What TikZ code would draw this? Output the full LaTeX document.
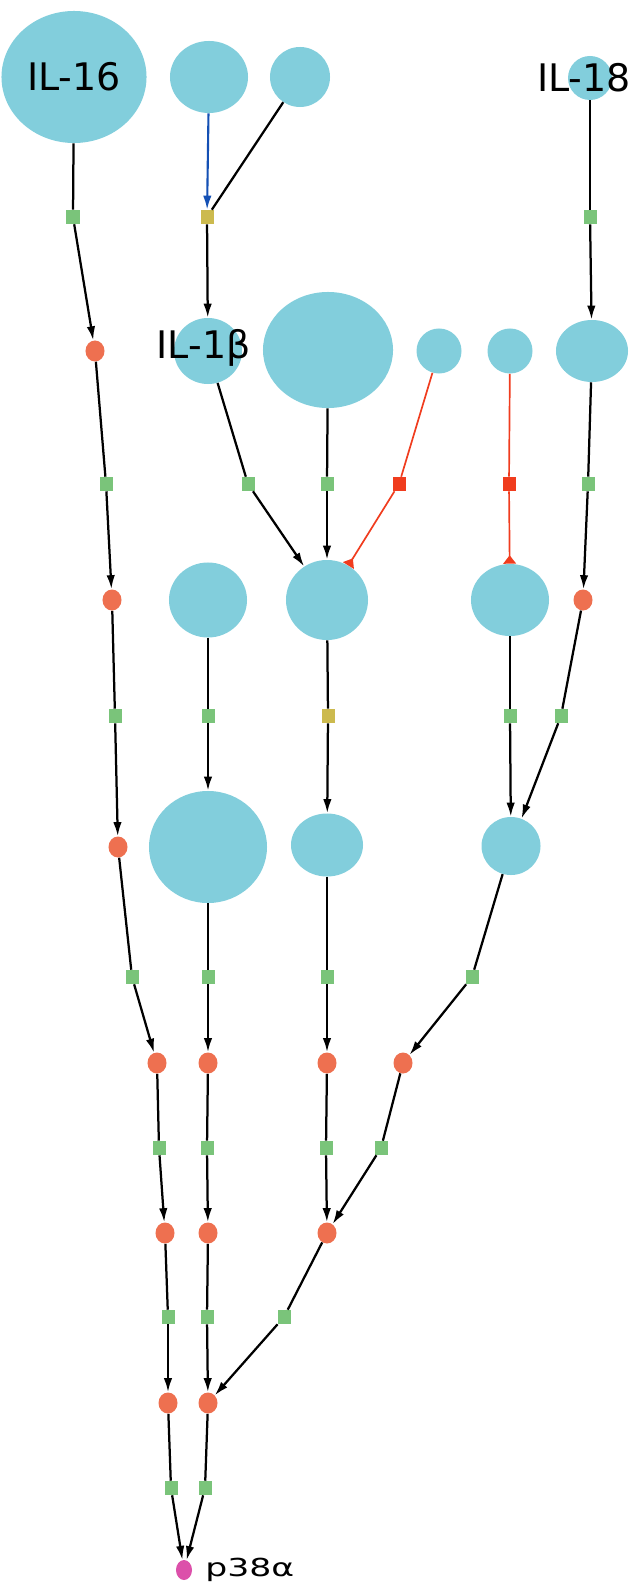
\documentclass[tikz,border=0pt]{standalone}
\usepackage{fontspec}
\setmainfont{DejaVu Sans}
\usetikzlibrary{shapes.geometric,arrows.meta}
\definecolor{molblue}{HTML}{82CEDC}
\definecolor{procgreen}{HTML}{7AC47A}
\definecolor{procyellow}{HTML}{CCBA4E}
\definecolor{procred}{HTML}{F03C1E}
\definecolor{siteorange}{HTML}{EE7050}
\definecolor{modblue}{HTML}{1450B4}
\definecolor{p38pink}{HTML}{DC50AA}

\begin{document}
\begin{tikzpicture}[x=0.025cm, y=-0.025cm,
    mol/.style={ellipse, fill=molblue, inner sep=0pt},
    proc/.style={rectangle, fill=procgreen, inner sep=0pt, minimum width=0.325cm, minimum height=0.35cm},
    procy/.style={proc, fill=procyellow},
    procr/.style={proc, fill=procred},
    site/.style={ellipse, fill=siteorange, inner sep=0pt, minimum width=0.475cm, minimum height=0.525cm},
    lab/.style={font=\fontsize{27}{30}\selectfont},
    sub/.style={line width=1.6pt},
    act/.style={line width=1.6pt, -{Latex[length=10pt,width=6pt]}},
    mod/.style={line width=1.5pt, draw=modblue, -{Latex[length=10pt,width=6pt]}},
    redline/.style={line width=1.2pt, draw=procred},
    inh/.style={line width=1.2pt, draw=procred, -{Triangle[reversed,length=6pt,width=9pt]}}]
    \useasboundingbox (0,0) rectangle (633,1595);

    % molecules
    \node at (74,77) [mol, minimum width=3.625cm, minimum height=3.3cm, label={[lab]center:IL-16}] (IL16) {};
    \node at (209,77) [mol, minimum width=1.95cm, minimum height=1.8cm] (M1) {};
    \node at (300,77) [mol, minimum width=1.5cm, minimum height=1.5cm] (M2) {};
    \node at (590,78) [mol, minimum width=1.1cm, minimum height=1.1cm, label={[lab, xshift=-0.15cm]center:IL-18}] (IL18) {};
    \node at (208,351) [mol, minimum width=1.7cm, minimum height=1.65cm, label={[lab, xshift=-0.11cm, yshift=0.08cm]center:IL-1β}] (IL1b) {};
    \node at (328,350) [mol, minimum width=3.25cm, minimum height=2.9cm] (M3) {};
    \node at (439,351) [mol, minimum width=1.125cm, minimum height=1.125cm] (M4) {};
    \node at (510,351) [mol, minimum width=1.125cm, minimum height=1.125cm] (M5) {};
    \node at (592,351) [mol, minimum width=1.8cm, minimum height=1.55cm] (M6) {};
    \node at (208,600) [mol, minimum width=1.95cm, minimum height=1.875cm] (M7) {};
    \node at (327,600) [mol, minimum width=2.05cm, minimum height=2cm] (M8) {};
    \node at (510,600) [mol, minimum width=1.95cm, minimum height=1.8cm] (M9) {};
    \node at (208,847) [mol, minimum width=2.95cm, minimum height=2.8cm] (M10) {};
    \node at (327,845) [mol, minimum width=1.8cm, minimum height=1.575cm] (M11) {};
    \node at (511,846) [mol, minimum width=1.475cm, minimum height=1.45cm] (M12) {};
    \node at (184,1570) [ellipse, fill=p38pink, inner sep=0pt, minimum width=0.4cm, minimum height=0.5cm,
        label={[font=\fontsize{17.6}{20}\selectfont, label distance=0.2cm]east:\scalebox{1.4}[1]{p38α}}] (p38) {};

    % process squares
    \node at (73,217) [proc] (P1) {};
    \node at (207,217) [procy] (P2) {};
    \node at (590,217) [proc] (P3) {};
    \node at (106,484) [proc] (P4) {};
    \node at (248,484) [proc] (P5) {};
    \node at (327,484) [proc] (P6) {};
    \node at (399,484) [procr] (P7) {};
    \node at (509,484) [procr] (P8) {};
    \node at (588,484) [proc] (P9) {};
    \node at (115,716) [proc] (P10) {};
    \node at (208,716) [proc] (P11) {};
    \node at (328,716) [procy] (P12) {};
    \node at (510,716) [proc] (P13) {};
    \node at (561,716) [proc] (P14) {};
    \node at (132,977) [proc] (P15) {};
    \node at (208,977) [proc] (P16) {};
    \node at (327,977) [proc] (P17) {};
    \node at (472,977) [proc] (P18) {};
    \node at (159,1148) [proc] (P19) {};
    \node at (207,1148) [proc] (P20) {};
    \node at (326,1148) [proc] (P21) {};
    \node at (381,1148) [proc] (P22) {};
    \node at (168,1317) [proc] (P23) {};
    \node at (207,1317) [proc] (P24) {};
    \node at (284,1317) [proc] (P25) {};
    \node at (171,1488) [proc] (P26) {};
    \node at (205,1488) [proc] (P27) {};

    % sites
    \node at (95,351) [site] (S1) {};
    \node at (112,600) [site] (S2) {};
    \node at (583,600) [site] (S3) {};
    \node at (118,847) [site] (S4) {};
    \node at (157,1063) [site] (S5) {};
    \node at (208,1063) [site] (S6) {};
    \node at (327,1063) [site] (S7) {};
    \node at (403,1063) [site] (S8) {};
    \node at (165,1233) [site] (S9) {};
    \node at (208,1233) [site] (S10) {};
    \node at (327,1233) [site] (S11) {};
    \node at (168,1403) [site] (S12) {};
    \node at (208,1403) [site] (S13) {};

    % reactions
    \draw[sub] (IL16) -- (P1);
    \draw[act] (P1) -- (S1);
    \draw[mod] (M1) -- (P2);
    \draw[sub] (M2) -- (P2);
    \draw[act] (P2) -- (IL1b);
    \draw[sub] (IL18) -- (P3);
    \draw[act] (P3) -- (M6);
    \draw[sub] (S1) -- (P4);
    \draw[act] (P4) -- (S2);
    \draw[sub] (IL1b) -- (P5);
    \draw[act] (P5) -- (M8);
    \draw[sub] (M3) -- (P6);
    \draw[act] (P6) -- (M8);
    \draw[redline] (M4) -- (P7);
    \draw[inh] (P7) -- (M8);
    \draw[redline] (M5) -- (P8);
    \draw[inh] (P8) -- (M9);
    \draw[sub] (M6) -- (P9);
    \draw[act] (P9) -- (S3);
    \draw[sub] (S2) -- (P10);
    \draw[act] (P10) -- (S4);
    \draw[sub] (M7) -- (P11);
    \draw[act] (P11) -- (M10);
    \draw[sub] (M8) -- (P12);
    \draw[act] (P12) -- (M11);
    \draw[sub] (M9) -- (P13);
    \draw[act] (P13) -- (M12);
    \draw[sub] (S3) -- (P14);
    \draw[act] (P14) -- (M12);
    \draw[sub] (S4) -- (P15);
    \draw[act] (P15) -- (S5);
    \draw[sub] (M10) -- (P16);
    \draw[act] (P16) -- (S6);
    \draw[sub] (M11) -- (P17);
    \draw[act] (P17) -- (S7);
    \draw[sub] (M12) -- (P18);
    \draw[act] (P18) -- (S8);
    \draw[sub] (S5) -- (P19);
    \draw[act] (P19) -- (S9);
    \draw[sub] (S6) -- (P20);
    \draw[act] (P20) -- (S10);
    \draw[sub] (S7) -- (P21);
    \draw[act] (P21) -- (S11);
    \draw[sub] (S8) -- (P22);
    \draw[act] (P22) -- (S11);
    \draw[sub] (S9) -- (P23);
    \draw[act] (P23) -- (S12);
    \draw[sub] (S10) -- (P24);
    \draw[act] (P24) -- (S13);
    \draw[sub] (S11) -- (P25);
    \draw[act] (P25) -- (S13);
    \draw[sub] (S12) -- (P26);
    \draw[act] (P26) -- (p38);
    \draw[sub] (S13) -- (P27);
    \draw[act] (P27) -- (p38);
\end{tikzpicture}
\end{document}
